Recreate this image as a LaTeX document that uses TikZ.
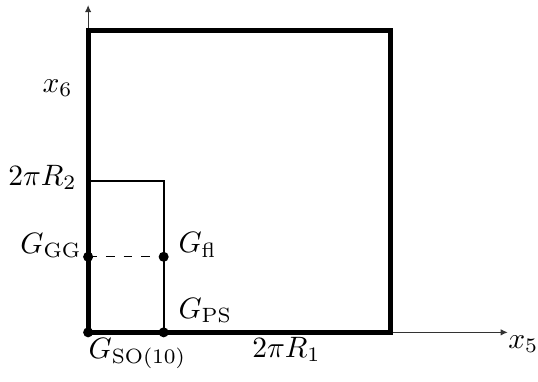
\documentclass[tikz,border=0pt]{standalone}
\usetikzlibrary{arrows.meta,positioning}

\begin{document}
\begin{tikzpicture}[
  axis/.style={-{Latex[length=2.4pt,width=2.2pt]},thin,draw=black!80},
  torus/.style={draw,line width=1.7pt},
  patch/.style={draw,semithick},
  fixpt/.style={circle,fill,inner sep=0pt,minimum size=3.4pt},
  lbl/.style={inner sep=0pt}
]
\useasboundingbox (-1.05,-0.58) rectangle (5.36,3.96);

% axes of the (x5,x6) plane
\coordinate (o) at (0,0);
\coordinate (xend) at (5,0);
\coordinate (yend) at (0,3.9);
\draw[axis] (o) -- (xend);
\draw[axis] (o) -- (yend);

% fundamental domain and the orbifold patch
\draw[patch] (0,1.8) -| (0.9,0);
\draw[torus] (o) rectangle (3.6,3.6);
\draw[dashed,thin] (0,0.9) -- (0.9,0.9);

% fixed points
\node[fixpt] (so10) at (0,0) {};
\node[fixpt] (ps) at (0.9,0) {};
\node[fixpt] (gg) at (0,0.9) {};
\node[fixpt] (fl) at (0.9,0.9) {};

\node[lbl,anchor=base west] at (0,-0.31) {$G_{\rm SO(10)}$};
\node[lbl,anchor=base west] at (1.07,0.17) {$G_{\rm PS}$};
\node[lbl,anchor=base east] at (-0.07,0.94) {$G_{\rm GG}$};
\node[lbl,anchor=base west] at (1.07,0.95) {$G_{\rm fl}$};

\node[lbl,anchor=base east] at (-0.13,1.75) {$2\pi R_2$};
\node[lbl,anchor=base west] at (1.95,-0.3) {$2\pi R_1$};
\node[lbl,anchor=base west] at (5.0,-0.19) {$x_5$};
\node[lbl,anchor=base west] at (-0.55,2.86) {$x_6$};
\end{tikzpicture}
\end{document}
